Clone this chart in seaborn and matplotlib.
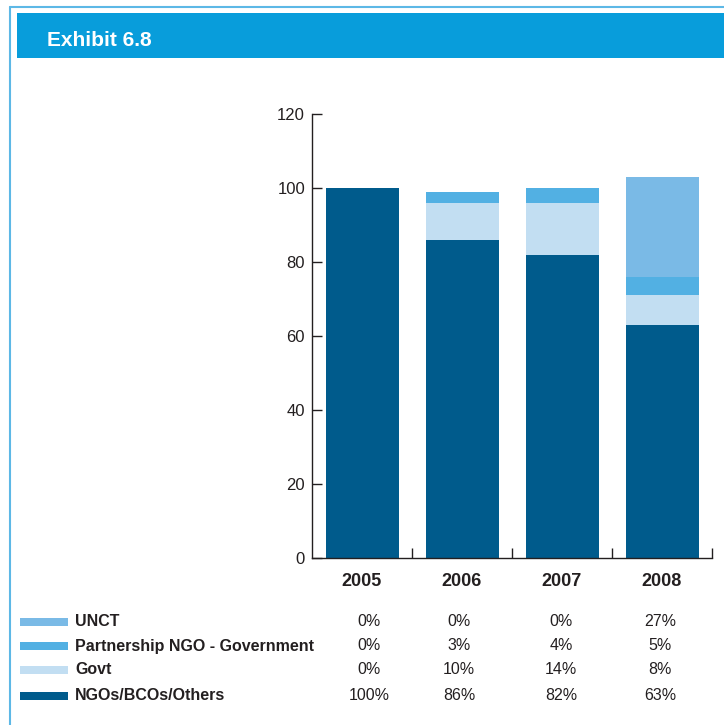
import numpy as np
import pandas as pd
import seaborn as sns
import matplotlib
matplotlib.use("Agg")
import matplotlib.pyplot as plt
from matplotlib.patches import Rectangle
from matplotlib.lines import Line2D
from matplotlib.ticker import FixedLocator

years = ["2005", "2006", "2007", "2008"]
ngo = [100, 86, 82, 63]
govt = [0, 10, 14, 8]
partnership = [0, 3, 4, 5]
unct = [0, 0, 0, 27]
series_names = ["UNCT", "Partnership NGO - Government", "Govt", "NGOs/BCOs/Others"]
title = "Exhibit 6.8"
yticks = [0, 20, 40, 60, 80, 100, 120]

colors = {
    "UNCT": "#7abae6",
    "Partnership NGO - Government": "#52b0e3",
    "Govt": "#c2def2",
    "NGOs/BCOs/Others": "#005b8c",
}

sns.set_theme(style="white")
plt.rcParams["font.family"] = ["Liberation Sans", "DejaVu Sans"]

fig = plt.figure(figsize=(7.24, 7.25), dpi=100)
ax = fig.add_axes([312 / 724, 167 / 725, 400 / 724, 444 / 725])

c1 = np.array(ngo)
c2 = c1 + np.array(govt)
c3 = c2 + np.array(partnership)
c4 = c3 + np.array(unct)
stacks = [("UNCT", c4), ("Partnership NGO - Government", c3), ("Govt", c2), ("NGOs/BCOs/Others", c1)]
for name, vals in stacks:
    sns.barplot(x=years, y=vals, color=colors[name], width=0.73, saturation=1,
                ax=ax, linewidth=0, order=years)

ax.set_xlim(-0.5, 3.5)
ax.set_ylim(0, 120)
ax.set_xlabel("")
ax.set_ylabel("")
ax.set_yticks(yticks)
ax.set_yticklabels([str(v) for v in yticks], fontsize=12, color="#231f20")
ax.tick_params(axis="y", direction="in", length=7, width=1, color="#231f20", pad=5, left=True)

ax.xaxis.set_major_locator(FixedLocator([0.5, 1.5, 2.5, 3.5]))
ax.xaxis.set_minor_locator(FixedLocator([0, 1, 2, 3]))
ax.set_xticklabels([], minor=False)
ax.set_xticklabels(years, minor=True, fontsize=13, fontweight="bold", color="#231f20",
                   family=["Liberation Sans Narrow", "Liberation Sans", "DejaVu Sans"])
ax.tick_params(axis="x", which="major", direction="in", length=7, width=1, color="#231f20", bottom=True)
ax.tick_params(axis="x", which="minor", length=0, pad=11, bottom=True)

for s in ["top", "right"]:
    ax.spines[s].set_visible(False)
for s in ["left", "bottom"]:
    ax.spines[s].set_color("#231f20")
    ax.spines[s].set_linewidth(1.0)
ax.grid(False)

# frame and header
fig.add_artist(Line2D([10 / 724, 10 / 724], [0, 1 - 7 / 725], color="#5db8e6", lw=1.5, transform=fig.transFigure))
fig.add_artist(Line2D([10 / 724, 1], [1 - 7 / 725, 1 - 7 / 725], color="#5db8e6", lw=1.5, transform=fig.transFigure))
fig.add_artist(Rectangle((17 / 724, 1 - 58 / 725), 1 - 17 / 724, 45 / 725, color="#089ddb",
                         transform=fig.transFigure, lw=0))
fig.text(47 / 724, 1 - 40 / 725, title, color="white", fontsize=15, fontweight="bold",
         va="center", ha="left")

# data table legend
row_y = [622, 646, 670, 696]
table = {"UNCT": unct, "Partnership NGO - Government": partnership, "Govt": govt, "NGOs/BCOs/Others": ngo}
col_x = [369, 459, 561, 660]
for name, yy in zip(series_names, row_y):
    fy = 1 - yy / 725
    fig.add_artist(Rectangle((20 / 724, fy - 3.5 / 725), 48 / 724, 8 / 725, color=colors[name],
                             transform=fig.transFigure, lw=0))
    fig.text(75 / 724, fy, name, fontsize=11.5, fontweight="bold", color="#231f20", va="center", ha="left")
    for v, cx in zip(table[name], col_x):
        fig.text(cx / 724, fy, f"{v}%", fontsize=11.5, color="#231f20", va="center", ha="center")

fig.savefig("out.png", dpi=100, facecolor="white")
